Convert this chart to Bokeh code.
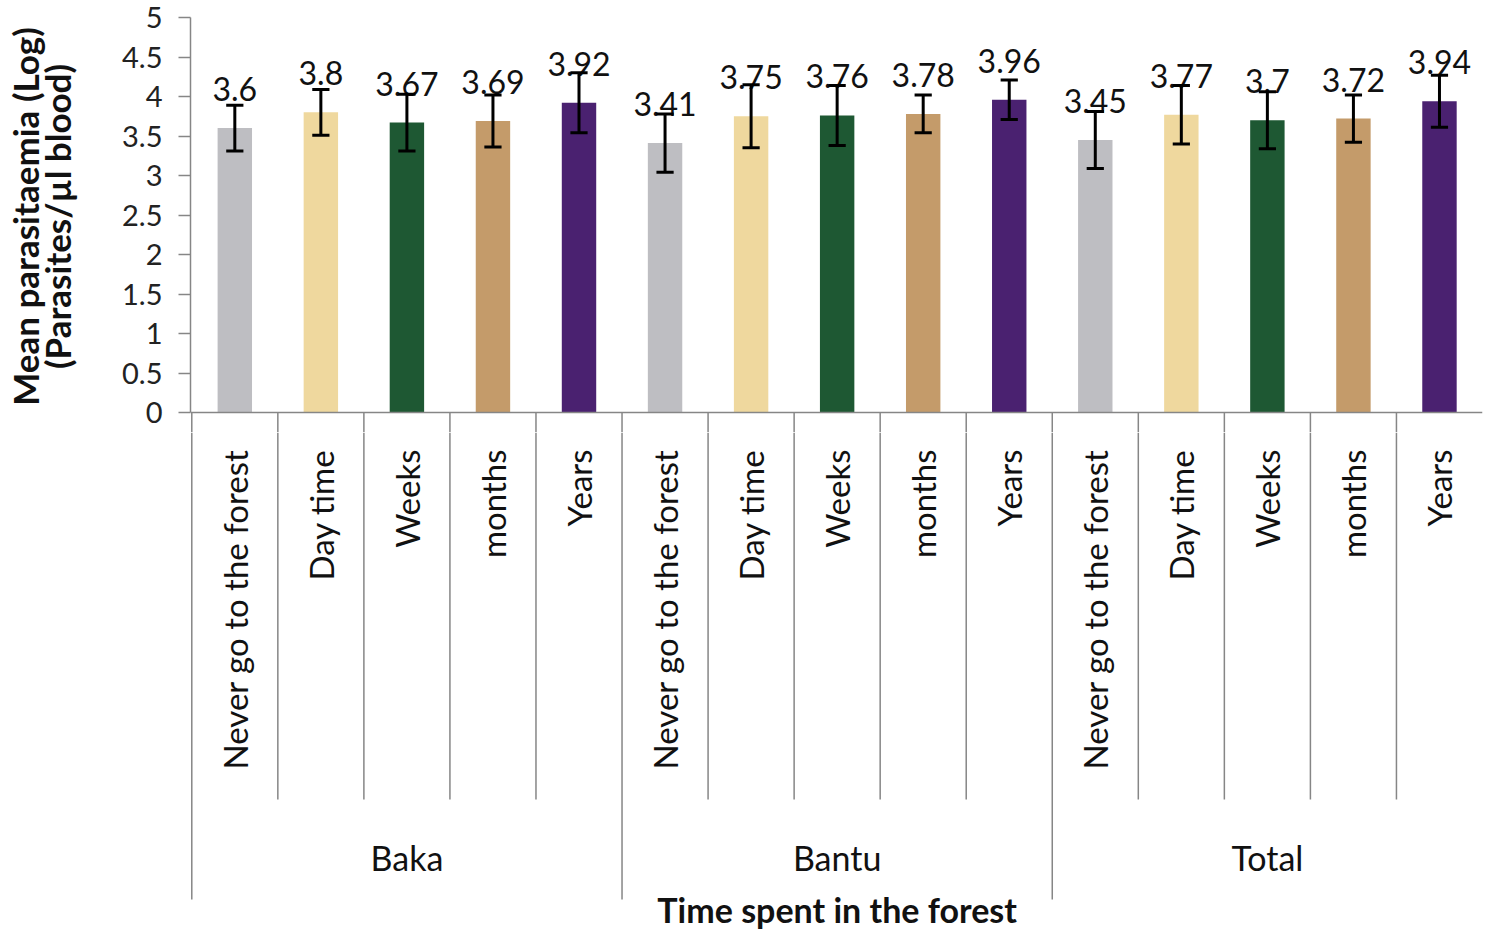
import math
from bokeh.plotting import figure
from bokeh.models import (Range1d, FixedTicker, ColumnDataSource, LinearAxis,
                          NumeralTickFormatter, Span)
from bokeh.layouts import column
from bokeh.embed import file_html
from bokeh.resources import INLINE
from bokeh.core.properties import value

# ---------------- data ----------------
groups = ["Baka", "Bantu", "Total"]
durations = ["Never go to the forest", "Day time", "Weeks", "months", "Years"]
baka_mean = [3.6, 3.8, 3.67, 3.69, 3.92]
baka_err = [0.29, 0.29, 0.36, 0.33, 0.38]
bantu_mean = [3.41, 3.75, 3.76, 3.78, 3.96]
bantu_err = [0.37, 0.40, 0.38, 0.24, 0.25]
total_mean = [3.45, 3.77, 3.7, 3.72, 3.94]
total_err = [0.36, 0.37, 0.36, 0.30, 0.33]
y_ticks = [0, 0.5, 1, 1.5, 2, 2.5, 3, 3.5, 4, 4.5, 5]
bar_colors = ["#bebec2", "#efd89e", "#1e5833", "#c49b6a", "#4a2170"]

y_title_lines = ["Mean parasitaemia (Log)", "(Parasites/\u00b5l blood)"]
x_title = "Time spent in the forest"

FONT = "Lato"
AXIS_GRAY = "#868686"
INK = "#111111"

means = baka_mean + bantu_mean + total_mean
errs = baka_err + bantu_err + total_err
n = len(means)
per = len(durations)
xs = [i + 0.5 for i in range(n)]
cats = durations * len(groups)
colors = bar_colors * len(groups)
labels = [f"{m:g}" for m in means]
lo = [m - e for m, e in zip(means, errs)]
hi = [m + e for m, e in zip(means, errs)]
cap = 0.1

src = ColumnDataSource(dict(x=xs, top=means, color=colors, label=labels,
                            lo=lo, hi=hi,
                            cl=[x - cap for x in xs], cr=[x + cap for x in xs]))

# layout geometry (pixels)
FRAME_W = 1292
LEFT = 189
PLOT_H = 395            # pixel height of the 0..5 value span
PAD_TOP = 17            # frame space above 5
PAD_BOT = 20            # frame space below 0 in the top figure
PX = 5 / PLOT_H         # data units per pixel
TOTAL_H = 929
TOP_H = PLOT_H + PAD_TOP + PAD_BOT
BOT_H = TOTAL_H - TOP_H

inner_x = [i for i in range(1, n) if i % per != 0]
group_x = [i for i in range(0, n, per)]
x_range = Range1d(-0.015, n)

# ---------------- top: bars ----------------
top = figure(frame_width=FRAME_W, frame_height=TOP_H,
             x_range=x_range, y_range=Range1d(-PAD_BOT * PX, 5 + PAD_TOP * PX),
             output_backend="svg", toolbar_location=None,
             x_axis_location=None, y_axis_location=None,
             min_border_left=LEFT, min_border_right=3, min_border_top=0,
             min_border_bottom=0)
top.grid.visible = False
top.outline_line_color = None

top.vbar(x="x", top="top", width=0.4, bottom=0, fill_color="color",
         line_color=None, source=src)
top.text(x="x", y="top", text="label", source=src, text_align="center",
         text_baseline="alphabetic", y_offset=-39, text_font=value(FONT),
         text_font_size="32px", text_color=INK)
top.segment(x0="x", y0="lo", x1="x", y1="hi", line_width=3, line_color="black",
            source=src)
top.segment(x0="cl", y0="hi", x1="cr", y1="hi", line_width=3, line_color="black",
            source=src)
top.segment(x0="cl", y0="lo", x1="cr", y1="lo", line_width=3, line_color="black",
            source=src)

ya = LinearAxis(ticker=FixedTicker(ticks=y_ticks), bounds=(0, 5),
                formatter=NumeralTickFormatter(format="0.[0]"))
ya.axis_line_color = AXIS_GRAY
ya.axis_line_width = 1.5
ya.major_tick_line_color = AXIS_GRAY
ya.major_tick_line_width = 1.5
ya.major_tick_out = 12
ya.major_tick_in = 0
ya.minor_tick_out = 0
ya.minor_tick_in = 0
ya.major_label_standoff = 16
ya.major_label_text_font = FONT
ya.major_label_text_font_size = "29px"
ya.major_label_text_color = "#222222"
ya.axis_label = y_title_lines[1]
ya.axis_label_text_font = FONT
ya.axis_label_text_font_style = "bold"
ya.axis_label_text_font_size = "35px"
ya.axis_label_text_color = INK
ya.axis_label_standoff = 41
top.add_layout(ya, "left")

ya2 = LinearAxis(ticker=FixedTicker(ticks=[]), major_label_text_font_size="0px",
                 major_tick_out=0, major_tick_in=0, minor_tick_out=0,
                 minor_tick_in=0, major_label_standoff=0, axis_line_color=None)
ya2.axis_label = y_title_lines[0]
ya2.axis_label_text_font = FONT
ya2.axis_label_text_font_style = "bold"
ya2.axis_label_text_font_size = "35px"
ya2.axis_label_text_color = INK
ya2.axis_label_standoff = -12
top.add_layout(ya2, "left")

top.add_layout(Span(location=0, dimension="width", line_color=AXIS_GRAY,
                    line_width=1.5))
# upper ends of the category separators (continue in the lower figure)
sep_x = inner_x + group_x
top.segment(x0=sep_x, y0=[0] * len(sep_x), x1=sep_x,
            y1=[-PAD_BOT * PX] * len(sep_x), line_color=AXIS_GRAY, line_width=1.5)

# ---------------- bottom: category labels ----------------
bot = figure(frame_width=FRAME_W, frame_height=BOT_H, x_range=x_range,
             y_range=Range1d(-BOT_H, 0),
             output_backend="svg", toolbar_location=None,
             x_axis_location=None, y_axis_location=None,
             min_border_left=LEFT, min_border_right=3, min_border_top=0,
             min_border_bottom=0)
bot.grid.visible = False
bot.outline_line_color = None

# distances below the baseline, in pixels
base = PAD_BOT
bot.segment(x0=inner_x, y0=[0] * len(inner_x), x1=inner_x,
            y1=[-(387 - base)] * len(inner_x), line_color=AXIS_GRAY, line_width=1.5)
bot.segment(x0=group_x, y0=[0] * len(group_x), x1=group_x,
            y1=[-(487 - base)] * len(group_x), line_color=AXIS_GRAY, line_width=1.5)

bot.text(x=xs, y=[-(37 - base)] * n, text=cats, angle=math.pi / 2,
         text_align="right", text_baseline="middle", text_font=value(FONT),
         text_font_size="33px", text_color=INK)
gx = [g * per + per / 2 for g in range(len(groups))]
bot.text(x=gx, y=[-(445 - base)] * len(groups), text=groups, text_align="center",
         text_baseline="middle", text_font=value(FONT), text_font_size="34px",
         text_color=INK)
bot.text(x=[n / 2], y=[-(497 - base)], text=[x_title], text_align="center",
         text_baseline="middle", text_font=value(FONT), text_font_size="34px",
         text_font_style="bold", text_color=INK)

layout = column(top, bot, spacing=0)
open("out.html", "w").write(file_html(layout, INLINE))
